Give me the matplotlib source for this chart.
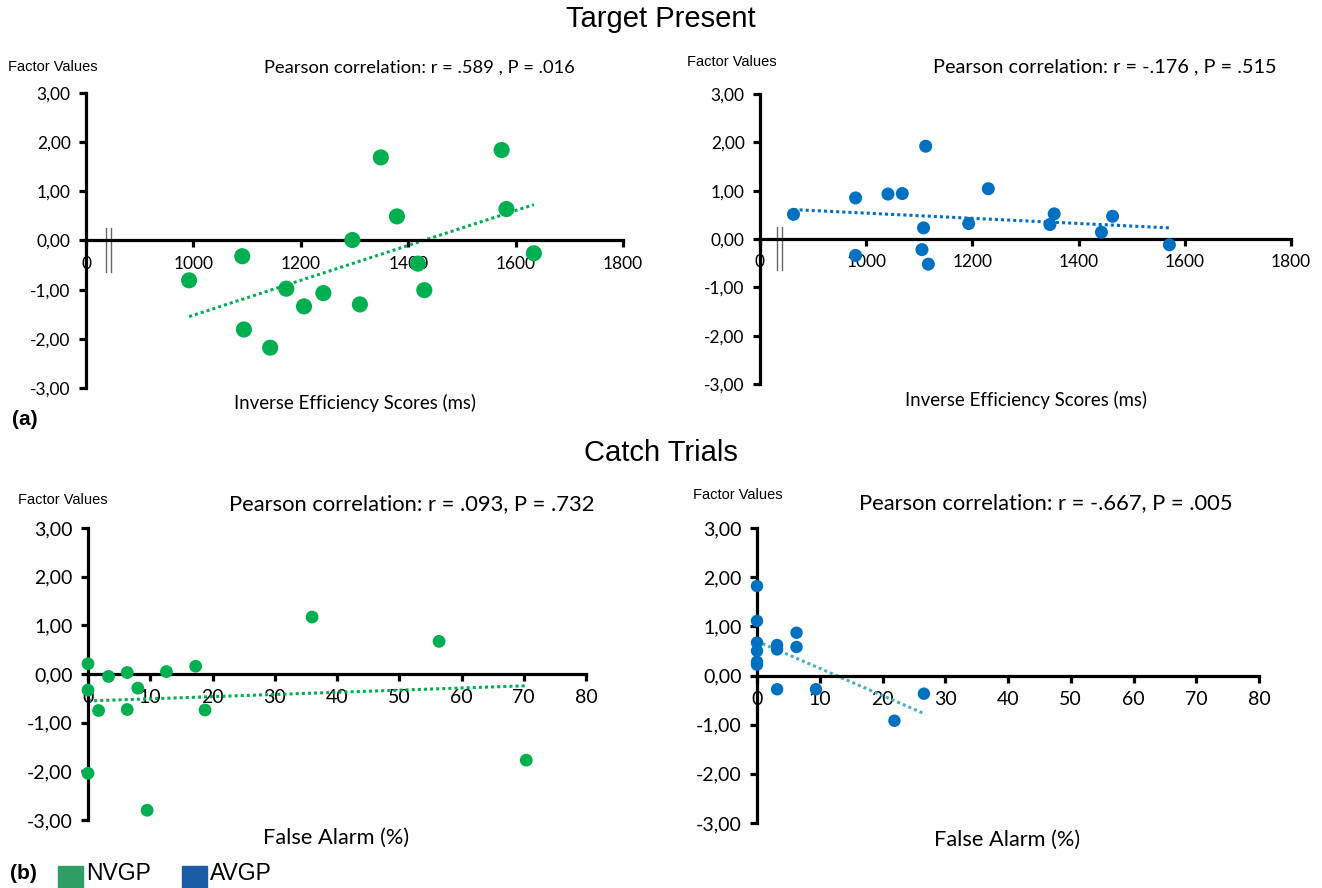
import numpy as np
import matplotlib
matplotlib.use("Agg")
import matplotlib.pyplot as plt
from matplotlib.ticker import FuncFormatter
from matplotlib.patches import Rectangle

# values
ies_ticks = [800, 1000, 1200, 1400, 1600, 1800]
ies_tick_labels = ["0", "1000", "1200", "1400", "1600", "1800"]
fa_ticks = [0, 10, 20, 30, 40, 50, 60, 70, 80]
factor_ticks = [-3, -2, -1, 0, 1, 2, 3]

nvgp_ies_x = [992, 1091, 1094, 1143, 1173, 1206, 1242, 1296, 1310, 1349, 1379, 1418, 1430, 1574, 1583, 1634]
nvgp_ies_y = [-0.81, -0.32, -1.81, -2.18, -0.98, -1.34, -1.07, 0.01, -1.30, 1.69, 0.49, -0.47, -1.01, 1.84, 0.64, -0.26]

avgp_ies_x = [863, 980, 980, 1041, 1068, 1112, 1108, 1105, 1117, 1193, 1230, 1346, 1354, 1443, 1464, 1571]
avgp_ies_y = [0.51, 0.85, -0.34, 0.93, 0.94, 1.92, 0.23, -0.22, -0.52, 0.32, 1.04, 0.30, 0.52, 0.14, 0.47, -0.12]

nvgp_fa_x = [0, 0, 0, 1.7, 3.3, 6.3, 6.3, 8.0, 9.5, 12.6, 17.3, 18.8, 36.0, 56.4, 70.4]
nvgp_fa_y = [0.21, -0.33, -2.04, -0.75, -0.05, 0.03, -0.73, -0.29, -2.80, 0.05, 0.16, -0.74, 1.17, 0.67, -1.77]

avgp_fa_x = [0, 0, 0, 0, 0, 0, 3.2, 3.2, 3.2, 6.3, 6.3, 9.4, 21.9, 26.6]
avgp_fa_y = [1.82, 1.11, 0.67, 0.50, 0.28, 0.22, 0.62, 0.53, -0.28, 0.87, 0.58, -0.28, -0.92, -0.37]

stats = ["Pearson correlation: r = .589 , P = .016",
         "Pearson correlation: r = -.176 , P = .515",
         "Pearson correlation: r = .093, P = .732",
         "Pearson correlation: r = -.667, P = .005"]

GREEN = "#00b050"
BLUE = "#0070c0"
TEAL = "#4bacc6"
CAL = ["Lato", "DejaVu Sans"]
ARIAL = ["Liberation Sans", "DejaVu Sans"]

W, H = 1322, 888
fig = plt.figure(figsize=(W / 100, H / 100), dpi=100)


def fx(px):
    return px / W


def fy(py):
    return 1 - py / H


def make_axes(x0, x1, ytop, ybot):
    return fig.add_axes([fx(x0), fy(ybot), (x1 - x0) / W, (ybot - ytop) / H])


def style(ax, xlim, xticks, xlabels, fs):
    ax.set_xlim(*xlim)
    ax.set_ylim(-3, 3)
    ax.spines["top"].set_visible(False)
    ax.spines["right"].set_visible(False)
    ax.spines["bottom"].set_position(("data", 0))
    for s in ("left", "bottom"):
        ax.spines[s].set_linewidth(2.3)
    ax.set_yticks(factor_ticks)
    ax.yaxis.set_major_formatter(FuncFormatter(lambda v, p: f"{v:.2f}".replace(".", ",")))
    ax.set_xticks(xticks)
    ax.set_xticklabels(xlabels)
    ax.tick_params(axis="both", direction="out", length=5, width=2.3, labelsize=fs, pad=6)
    for lab in ax.get_xticklabels() + ax.get_yticklabels():
        lab.set_family(CAL)
    ax.patch.set_alpha(0)


def scatter_trend(ax, x, y, color, size, line_color):
    x = np.asarray(x, float)
    y = np.asarray(y, float)
    k, b = np.polyfit(x, y, 1)
    xs = np.array([x.min(), x.max()])
    ax.plot(xs, k * xs + b, linestyle=(0, (1, 1)), lw=2.2, color=line_color, zorder=2)
    ax.scatter(x, y, s=size, color=color, edgecolors="none", zorder=3, clip_on=False)


def axis_break(ax, xa, xb):
    for xv in (xa, xb):
        ax.plot([xv, xv], [0.25, -0.65], color="#666666", lw=1.0, zorder=1)


# (a) target present
ax1 = make_axes(86, 623, 93, 388)
style(ax1, (800, 1800), ies_ticks, ies_tick_labels, 12.5)
axis_break(ax1, 837, 846)
scatter_trend(ax1, nvgp_ies_x, nvgp_ies_y, GREEN, 135, GREEN)

ax2 = make_axes(760, 1291, 94, 384)
style(ax2, (800, 1800), ies_ticks, ies_tick_labels, 12.5)
axis_break(ax2, 832, 841)
scatter_trend(ax2, avgp_ies_x, avgp_ies_y, BLUE, 88, BLUE)

# (b) catch trials
ax3 = make_axes(88, 586, 528, 820)
style(ax3, (0, 80), fa_ticks, [str(t) for t in fa_ticks], 14)
scatter_trend(ax3, nvgp_fa_x, nvgp_fa_y, GREEN, 85, GREEN)

ax4 = make_axes(757, 1259, 528, 823)
style(ax4, (0, 80), fa_ticks, [str(t) for t in fa_ticks], 14)
scatter_trend(ax4, avgp_fa_x, avgp_fa_y, BLUE, 80, TEAL)

# headings and labels
fig.text(fx(661), fy(19), "Target Present", ha="center", va="center", fontsize=21, family=ARIAL)
fig.text(fx(661), fy(453), "Catch Trials", ha="center", va="center", fontsize=21, family=ARIAL)

for px, py in [(8, 67), (687, 62), (18, 500), (693, 495)]:
    fig.text(fx(px), fy(py), "Factor Values", ha="left", va="center", fontsize=10.5, family=ARIAL)

for (px, py, fs), txt in zip([(419, 68, 13.2), (1105, 67, 14.3), (412, 504, 15.8), (1046, 503, 15.8)], stats):
    fig.text(fx(px), fy(py), txt, ha="center", va="center", fontsize=fs, family=CAL)

fig.text(fx(355), fy(403), "Inverse Efficiency Scores (ms)", ha="center", va="center", fontsize=13.4, family=CAL)
fig.text(fx(1026), fy(400), "Inverse Efficiency Scores (ms)", ha="center", va="center", fontsize=13.4, family=CAL)
fig.text(fx(336), fy(838), "False Alarm (%)", ha="center", va="center", fontsize=15.7, family=CAL)
fig.text(fx(1007), fy(840), "False Alarm (%)", ha="center", va="center", fontsize=15.7, family=CAL)

fig.text(fx(12), fy(419), "(a)", ha="left", va="center", fontsize=15, fontweight="bold", family=ARIAL)
fig.text(fx(10), fy(873), "(b)", ha="left", va="center", fontsize=15, fontweight="bold", family=ARIAL)

# group key
for x0, c, name in [(58, "#2e9e66", "NVGP"), (182, "#1a5da6", "AVGP")]:
    fig.add_artist(Rectangle((fx(x0), fy(893)), 25 / W, 27 / H, transform=fig.transFigure,
                             color=c, clip_on=False))
    fig.text(fx(x0 + 28), fy(873), name, ha="left", va="center", fontsize=16.5, family=ARIAL)

fig.savefig("out.png", dpi=100)
